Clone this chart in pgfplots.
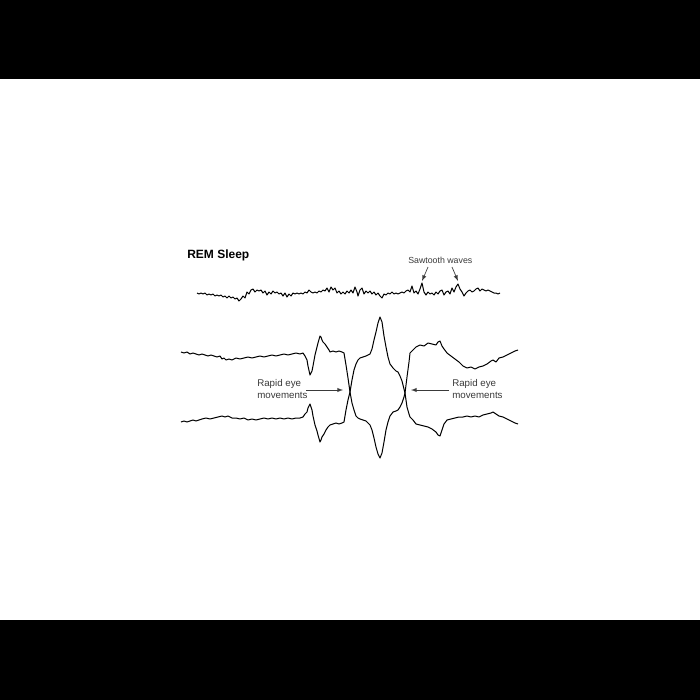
\documentclass[border=0pt]{standalone}
\usepackage{pgfplots}
\pgfplotsset{compat=1.18}
\usepackage{fontspec}
\setmainfont{Liberation Sans}
\definecolor{lbl}{HTML}{3A3A3A}
\begin{document}
\begin{tikzpicture}
\begin{axis}[scale only axis, width=525pt, height=525pt,
  xmin=0, xmax=700, ymin=0, ymax=700, y dir=reverse, hide axis, clip=true]
\addplot[fill=white, draw=none] coordinates {(0,0)(700,0)(700,700)(0,700)} -- cycle;
\addplot[fill=black, draw=none] coordinates {(0,0)(700,0)(700,79)(0,79)} -- cycle;
\addplot[fill=black, draw=none] coordinates {(0,620)(700,620)(700,700)(0,700)} -- cycle;
% EEG trace
\addplot[black, line width=0.75pt, line join=round] coordinates {
(197,293)(199,294)(201,293)(203,294)(205,293)(207,295)(209,294)(211,295)(213,294)(215,296)
(217,295)(219,296)(221,295)(223,297)(225,296)(227,298)(229,296)(231,298)(233,297)(235,299)
(237,298)(239,301)(241,299)(243,296)(245,298)(247,292)(249,294)(251,290)(253,289)(255,292)
(257,290)(259,291)(261,290)(263,293)(265,291)(267,295)(269,292)(271,294)(273,291)(275,293)
(277,292)(279,294)(281,293)(283,296)(285,293)(287,297)(289,294)(291,296)(293,293)(295,294)
(297,293)(299,294)(301,293)(303,294)(305,292)(307,293)(309,290)(311,292)(313,293)(315,292)
(317,293)(319,291)(321,292)(323,290)(325,291)(327,288)(329,292)(331,287)(333,290)(335,288)
(337,293)(339,291)(341,294)(343,292)(345,294)(347,291)(349,293)(351,290)(353,293)(355,287)
(357,292)(358,296)(360,290)(362,288)(364,294)(366,291)(368,293)(370,291)(372,294)(374,292)
(376,295)(378,293)(380,296)(382,298)(384,294)(386,295)(388,293)(390,294)(392,292)(394,294)
(396,293)(398,294)(400,293)(402,292)(404,293)(406,291)(408,290)(410,292)(412,286)(414,293)
(416,291)(418,294)(420,289)(422,283)(424,292)(426,295)(428,292)(430,294)(432,293)(434,295)
(436,292)(438,294)(440,291)(442,290)(444,295)(446,292)(448,291)(450,294)(452,288)(454,292)
(456,287)(458,284)(460,289)(462,292)(464,296)(466,293)(468,291)(470,290)(472,292)(474,291)
(476,289)(478,288)(480,291)(482,289)(484,290)(486,291)(488,290)(490,291)(492,292)(494,293)
(496,293)(498,294)(500,293)};
% EOG upper trace
\addplot[black, line width=0.75pt, line join=round] coordinates {
(181,352)(184,353)(187,352)(190,354)(193,353)(196,354)(199,355)(202,354)(205,355)(208,356)
(211,355)(214,356)(217,357)(220,356)(222,359)(224,358)(226,360)(229,359)(232,360)(236,358)
(240,359)(244,358)(248,357)(252,358)(256,357)(260,356)(264,357)(268,356)(272,355)(276,356)
(280,355)(284,354)(288,355)(292,354)(296,353)(300,354)(303,353)(305,356)(307,360)(308,366)
(310,375)(312,371)(313,366)(315,355)(317,347)(318,343)(320,336)(321,337)(322,340)(323,342)
(325,344)(327,347)(329,350)(330,352)(333,351)(336,352)(339,351)(342,352)(344,353)(346,365)
(348,378)(350,392)(352,403)(354,410)(356,416)(358,418)(360,419)(363,420)(366,421)(368,423)
(370,425)(372,430)(374,438)(376,447)(378,454)(380,458)(382,453)(384,442)(386,430)(388,422)
(390,416)(393,412)(396,411)(398,410)(400,407)(402,403)(404,397)(405,393)(407,377)(409,362)
(410,353)(413,350)(416,347)(420,345)(424,346)(428,343)(432,344)(436,345)(438,342)(440,341)
(442,346)(444,349)(447,353)(451,356)(455,359)(459,362)(463,366)(467,368)(471,367)(475,369)
(479,367)(483,366)(487,364)(491,361)(493,360)(496,362)(499,358)(503,357)(507,355)(511,353)
(515,351)(518,350)};
% EOG lower trace
\addplot[black, line width=0.75pt, line join=round] coordinates {
(181,422)(184,421)(187,422)(190,421)(193,420)(196,421)(199,420)(202,419)(206,418)(210,419)
(214,418)(218,417)(222,416)(225,417)(228,416)(232,418)(236,418)(240,419)(244,418)(248,420)
(252,419)(256,420)(260,419)(264,418)(268,419)(272,418)(276,419)(280,418)(284,419)(288,418)
(292,419)(296,418)(300,418)(303,417)(305,414)(307,412)(308,408)(310,404)(312,410)(313,416)
(315,425)(317,431)(318,435)(320,442)(321,440)(322,437)(324,434)(326,430)(328,427)(330,425)
(333,424)(336,423)(339,424)(342,423)(344,422)(346,410)(348,400)(350,392)(352,380)(354,370)
(356,364)(358,360)(360,358)(363,357)(366,356)(368,355)(370,354)(372,349)(374,340)(376,332)
(378,323)(380,317)(382,322)(384,336)(386,347)(388,357)(390,364)(393,368)(396,371)(398,372)
(400,376)(402,381)(404,389)(405,393)(407,407)(409,414)(410,417)(413,420)(416,424)(420,425)
(424,426)(428,427)(432,429)(436,432)(438,435)(440,436)(442,430)(444,424)(447,420)(451,419)
(455,418)(459,417)(463,417)(467,416)(471,417)(475,416)(479,417)(483,415)(487,414)(491,413)
(493,412)(496,414)(499,416)(503,417)(507,419)(511,421)(515,423)(518,424)};
% labels
\node[anchor=west, font=\bfseries\fontsize{9}{10}\selectfont, inner sep=0pt] at (axis cs:187,255) {REM Sleep};
\node[anchor=west, font=\fontsize{6.6}{7}\selectfont, text=lbl, inner sep=0pt] at (axis cs:408,260) {Sawtooth waves};
\draw[-latex, lbl, line width=0.5pt] (axis cs:428,267) -- (axis cs:422,281);
\draw[-latex, lbl, line width=0.5pt] (axis cs:452,267) -- (axis cs:458,281);
\node[anchor=west, align=left, font=\fontsize{7.3}{8.6}\selectfont, text=lbl, inner sep=0pt] at (axis cs:257,389) {Rapid eye\\movements};
\draw[-latex, lbl, line width=0.5pt] (axis cs:306,390) -- (axis cs:343,390);
\node[anchor=west, align=left, font=\fontsize{7.3}{8.6}\selectfont, text=lbl, inner sep=0pt] at (axis cs:452,389) {Rapid eye\\movements};
\draw[-latex, lbl, line width=0.5pt] (axis cs:449,390) -- (axis cs:411,390);
\end{axis}
\end{tikzpicture}
\end{document}
